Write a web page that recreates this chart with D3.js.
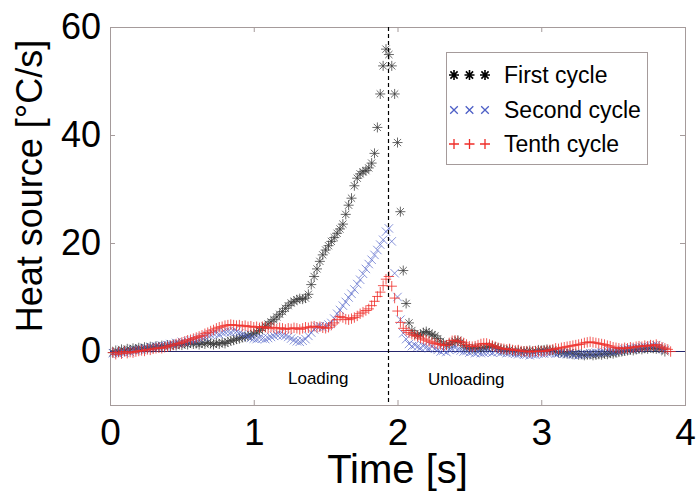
<!doctype html>
<html lang="en">
<head>
<meta charset="utf-8">
<script src="https://cdn.jsdelivr.net/npm/d3@7"></script>
<style>
	body{
		margin:0px;
		padding:0px;
		background:#fff;
	}
	text{
		font-family:"Liberation Sans", Arial, sans-serif;
	}
</style>
</head>
<body>
<svg id="chartSvg"></svg>
<script>
// sample times [s]
var times = [
	0.02,0.04,0.06,0.08,0.10,0.12,0.14,0.16,0.18,0.20,
	0.22,0.24,0.26,0.28,0.30,0.32,0.34,0.36,0.38,0.40,
	0.42,0.44,0.46,0.48,0.50,0.52,0.54,0.56,0.58,0.60,
	0.62,0.64,0.66,0.68,0.70,0.72,0.74,0.76,0.78,0.80,
	0.82,0.84,0.86,0.88,0.90,0.92,0.94,0.96,0.98,1.00,
	1.02,1.04,1.06,1.08,1.10,1.12,1.14,1.16,1.18,1.20,
	1.22,1.24,1.26,1.28,1.30,1.32,1.34,1.36,1.38,1.40,
	1.42,1.44,1.46,1.48,1.50,1.52,1.54,1.56,1.58,1.60,
	1.62,1.64,1.66,1.68,1.70,1.72,1.74,1.76,1.78,1.80,
	1.82,1.84,1.86,1.88,1.90,1.92,1.94,1.96,1.98,2.00,
	2.02,2.04,2.06,2.08,2.10,2.12,2.14,2.16,2.18,2.20,
	2.22,2.24,2.26,2.28,2.30,2.32,2.34,2.36,2.38,2.40,
	2.42,2.44,2.46,2.48,2.50,2.52,2.54,2.56,2.58,2.60,
	2.62,2.64,2.66,2.68,2.70,2.72,2.74,2.76,2.78,2.80,
	2.82,2.84,2.86,2.88,2.90,2.92,2.94,2.96,2.98,3.00,
	3.02,3.04,3.06,3.08,3.10,3.12,3.14,3.16,3.18,3.20,
	3.22,3.24,3.26,3.28,3.30,3.32,3.34,3.36,3.38,3.40,
	3.42,3.44,3.46,3.48,3.50,3.52,3.54,3.56,3.58,3.60,
	3.62,3.64,3.66,3.68,3.70,3.72,3.74,3.76,3.78,3.80,
	3.82,3.84,3.86,3.88,3.90
];

// heat source [°C/s], one value per sample time
var firstCycle = [
	-0.3,0.1,-0.2,0.3,0.0,0.4,0.2,0.5,0.3,0.6,
	0.4,0.7,0.5,0.8,0.6,0.9,0.7,1.0,0.8,1.1,
	0.9,1.2,1.0,1.3,1.1,1.4,1.2,1.5,1.3,1.4,
	1.2,1.5,1.3,1.6,1.4,1.2,1.5,1.3,1.6,1.4,
	1.7,1.9,2.0,2.2,2.3,2.5,2.6,2.8,3.0,3.2,
	3.5,3.8,4.2,4.6,5.0,5.4,5.8,6.3,6.8,7.3,
	7.9,8.4,8.9,9.2,9.5,9.7,9.6,9.8,10.5,12.3,
	13.8,15.2,16.6,17.8,18.7,19.5,20.3,21.0,21.8,22.6,
	23.5,25.3,27.0,28.3,30.6,32.0,32.8,33.2,33.4,33.9,
	34.8,36.6,41.4,47.6,52.8,55.9,54.9,52.8,47.6,38.6,
	25.8,14.9,8.8,5.2,3.8,3.2,2.9,3.0,3.4,3.6,
	3.3,3.0,2.8,2.3,1.8,1.3,1.1,1.2,1.5,1.8,
	2.0,1.6,1.0,0.6,0.5,0.4,0.6,0.5,0.4,0.6,
	0.7,0.8,0.9,0.7,0.5,0.3,0.2,0.1,0.3,0.0,
	-0.1,0.1,-0.2,0.0,-0.1,0.1,-0.1,0.0,0.2,0.1,
	0.2,0.3,0.1,0.2,-0.1,-0.3,-0.2,-0.4,-0.5,-0.3,
	-0.6,-0.5,-0.7,-0.6,-0.8,-0.7,-0.6,-0.8,-0.7,-0.6,
	-0.7,-0.5,-0.6,-0.4,-0.5,-0.3,-0.2,-0.1,0.0,0.1,
	0.2,0.1,0.3,0.4,0.3,0.5,0.4,0.6,0.5,0.4,
	0.5,0.3,-0.1
];
var secondCycle = [
	-0.4,-0.2,-0.5,-0.1,-0.3,0.0,-0.2,0.2,0.1,0.3,
	0.2,0.5,0.4,0.7,0.6,0.8,0.9,1.0,0.9,1.1,
	1.3,1.2,1.5,1.4,1.7,1.6,1.8,2.0,1.9,2.1,
	2.3,2.5,2.6,2.9,3.0,3.2,3.3,3.1,3.4,3.5,
	3.6,3.5,3.7,3.6,3.3,3.1,2.9,2.6,2.4,2.3,
	2.2,2.4,2.3,2.2,2.4,2.6,2.8,3.0,3.1,2.9,
	2.8,2.6,2.3,2.0,1.8,1.7,1.9,2.2,2.8,3.4,
	4.0,4.5,4.6,4.4,4.6,4.9,5.2,6.0,6.9,7.6,
	8.4,9.1,9.9,10.6,11.4,12.4,13.2,14.3,15.2,16.1,
	16.9,17.8,18.7,19.7,20.6,22.1,22.7,20.3,14.4,10.0,
	5.8,3.3,2.2,1.3,0.9,1.1,0.8,0.6,0.9,0.7,
	0.5,0.8,0.4,0.2,-0.1,0.1,-0.2,0.2,0.4,0.6,
	0.3,0.1,-0.1,0.0,-0.3,-0.1,-0.4,-0.2,-0.4,-0.3,
	-0.2,-0.1,-0.3,0.0,-0.2,-0.3,-0.1,-0.4,-0.3,-0.4,
	-0.5,-0.6,-0.4,-0.7,-0.6,-0.8,-0.6,-0.7,-0.5,-0.4,
	-0.5,-0.3,-0.4,-0.2,-0.5,-0.4,-0.3,-0.5,-0.6,-0.4,
	-0.7,-0.6,-0.8,-0.7,-0.5,-0.6,-0.4,-0.5,-0.3,-0.4,
	-0.2,-0.3,-0.1,0.0,-0.2,0.1,0.0,0.2,0.3,0.4,
	0.5,0.3,0.6,0.5,0.7,0.8,0.6,0.9,1.0,1.1,
	0.8,0.4,0.2
];
var tenthCycle = [
	-0.3,-0.6,-0.2,-0.5,-0.1,-0.4,-0.2,-0.3,-0.1,0.0,
	0.1,0.0,0.3,0.2,0.4,0.5,0.6,0.5,0.7,0.8,
	1.0,1.1,1.3,1.4,1.6,1.8,2.0,2.1,2.3,2.5,
	2.7,2.9,3.2,3.4,3.7,3.9,4.2,4.4,4.5,4.7,
	4.8,4.9,4.8,4.7,4.8,4.6,4.7,4.5,4.6,4.4,
	4.5,4.3,4.5,4.4,4.2,4.4,4.3,4.1,4.3,4.2,
	4.0,4.2,4.1,4.3,4.2,4.0,4.2,4.4,4.3,4.5,
	4.6,4.4,4.5,4.3,4.2,4.4,4.8,5.2,5.8,6.4,
	6.2,5.9,5.8,6.0,6.2,6.5,6.9,7.2,7.5,7.8,
	8.4,9.2,10.1,10.9,12.1,13.3,13.8,12.0,9.8,7.4,
	5.3,4.2,3.8,3.4,3.1,2.9,2.7,2.4,2.2,2.0,
	1.8,1.6,1.4,1.3,1.2,1.0,1.1,1.5,1.9,2.0,
	1.8,1.7,1.5,1.2,0.9,0.8,0.9,1.1,1.3,1.4,
	1.4,1.2,1.0,0.8,0.6,0.5,0.4,0.3,0.4,0.2,
	0.1,0.2,0.0,-0.1,0.0,-0.2,-0.1,0.0,-0.1,0.0,
	-0.1,0.1,0.2,0.3,0.5,0.4,0.6,0.7,0.8,0.9,
	1.0,1.1,1.2,1.3,1.5,1.6,1.7,1.6,1.5,1.4,
	1.3,1.2,1.0,0.9,0.7,0.6,0.5,0.4,0.6,0.5,
	0.7,0.6,0.8,0.9,0.8,1.0,0.9,1.1,1.0,1.2,
	0.9,0.7,0.5,0.3,-0.1
];

var seriesNames = ["First cycle","Second cycle","Tenth cycle"];
var xTicks = [0,1,2,3,4];
var yTicks = [0,20,40,60];
var peakTime = 1.935;

var chartW = 696, chartH = 497;
var padL = 110, padR = 685, padT = 27, padB = 405;
var axisColor = "#a59b9b";
var font = "'Liberation Sans', Arial, sans-serif";

var svg = d3.select("#chartSvg").attr("width", chartW).attr("height", chartH);

var xScale = d3.scaleLinear().domain([0,4]).range([padL,padR]);
var yScale = d3.scaleLinear().domain([-10,60]).range([padB,padT]);

//marker shapes (MATLAB style)
function markerPath(type, r){
	var k = r*0.72;
	var plus = "M"+(-r)+",0H"+r+"M0,"+(-r)+"V"+r;
	var cross = "M"+(-k)+","+(-k)+"L"+k+","+k+"M"+(-k)+","+k+"L"+k+","+(-k);
	if(type=="plus") return plus;
	if(type=="cross") return "M"+(-r)+","+(-r)+"L"+r+","+r+"M"+(-r)+","+r+"L"+r+","+(-r);
	return plus+cross;
}

var series = [
	{name:seriesNames[0], values:firstCycle, type:"star", color:"#3a3a3a", w:0.9, op:0.85, r:5},
	{name:seriesNames[1], values:secondCycle, type:"cross", color:"#4d5fc6", w:0.9, op:0.75, r:4.2},
	{name:seriesNames[2], values:tenthCycle, type:"plus", color:"#ef2d28", w:1, op:0.8, r:5.2}
];

//frame
svg.append("rect")
	.attr("x",padL+0.5).attr("y",padT+0.5)
	.attr("width",padR-padL).attr("height",padB-padT)
	.attr("fill","#fff")
	.attr("stroke",axisColor)
	.attr("stroke-width",1);

//axes with inward ticks
function styleAxis(g){
	g.select(".domain").remove();
	g.selectAll(".tick line").attr("stroke",axisColor);
	g.selectAll("text").attr("fill","#000").style("font-family",font);
}
svg.append("g")
	.attr("transform","translate(0,"+padB+")")
	.call(d3.axisBottom(xScale).tickValues(xTicks).tickSizeInner(-5).tickSizeOuter(0).tickPadding(14).tickFormat(d3.format("d")))
	.call(styleAxis)
	.selectAll("text").style("font-size","37px");
svg.append("g")
	.attr("transform","translate(0,"+padT+")")
	.call(d3.axisTop(xScale).tickValues(xTicks).tickSizeInner(-5).tickSizeOuter(0).tickFormat(""))
	.call(styleAxis);
svg.append("g")
	.attr("transform","translate("+padL+",0)")
	.call(d3.axisLeft(yScale).tickValues(yTicks).tickSizeInner(-5).tickSizeOuter(0).tickPadding(9).tickFormat(d3.format("d")))
	.call(styleAxis)
	.selectAll("text").style("font-size","36px");
svg.append("g")
	.attr("transform","translate("+padR+",0)")
	.call(d3.axisRight(yScale).tickValues(yTicks).tickSizeInner(-5).tickSizeOuter(0).tickFormat(""))
	.call(styleAxis);

//zero line
svg.append("line")
	.attr("x1",xScale(0)).attr("x2",xScale(4))
	.attr("y1",Math.round(yScale(0))+0.5).attr("y2",Math.round(yScale(0))+0.5)
	.attr("stroke","#24246a")
	.attr("stroke-width",1.2);

//data markers
for(var i=0;i<series.length;i++){
	var s = series[i];
	svg.append("g")
		.selectAll("path")
		.data(s.values)
		.enter()
		.append("path")
		.attr("transform",function(d,j){return "translate("+xScale(times[j])+","+yScale(d)+")";})
		.attr("d",markerPath(s.type,s.r))
		.attr("fill","none")
		.attr("stroke",s.color)
		.attr("stroke-width",s.w)
		.attr("stroke-opacity",s.op);
}

//loading / unloading separator
svg.append("line")
	.attr("x1",Math.round(xScale(peakTime))+0.5).attr("x2",Math.round(xScale(peakTime))+0.5)
	.attr("y1",padT).attr("y2",padB)
	.attr("stroke","#000")
	.attr("stroke-width",1.2)
	.attr("stroke-dasharray","4,3");

svg.append("text")
	.attr("x",288).attr("y",384)
	.style("font-size","17px")
	.text("Loading");
svg.append("text")
	.attr("x",428).attr("y",385)
	.style("font-size","17px")
	.text("Unloading");

//legend
var legend = svg.append("g");
legend.append("rect")
	.attr("x",446.5).attr("y",52.5)
	.attr("width",201).attr("height",112)
	.attr("fill","#fff")
	.attr("stroke",axisColor);
var legY = [75,110,144];
for(var i=0;i<series.length;i++){
	var s = series[i];
	for(var m=0;m<3;m++){
		legend.append("path")
			.attr("transform","translate("+(454+m*15.5)+","+legY[i]+")")
			.attr("d",markerPath(s.type,s.type=="cross"?3.8:5))
			.attr("fill","none")
			.attr("stroke",i==0?"#000":s.color)
			.attr("stroke-width",i==0?1.6:1.3);
	}
	legend.append("text")
		.attr("x",504).attr("y",legY[i])
		.attr("dy","0.36em")
		.style("font-size","23px")
		.text(s.name);
}

//axis titles
svg.append("text")
	.attr("x",(padL+padR)/2).attr("y",483)
	.attr("text-anchor","middle")
	.style("font-size","40px")
	.text("Time [s]");
svg.append("text")
	.attr("transform","translate(42,186) rotate(-90)")
	.attr("text-anchor","middle")
	.style("font-size","36px")
	.text("Heat source [°C/s]");
</script>
</body>
</html>
